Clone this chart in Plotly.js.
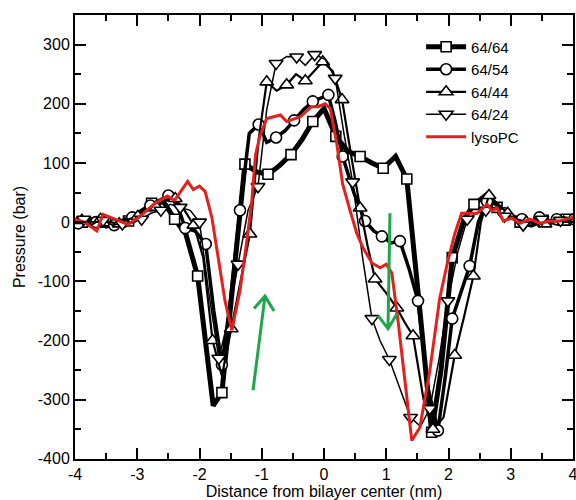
<!DOCTYPE html>
<html><head><meta charset="utf-8">
<script src="https://cdn.plot.ly/plotly-3.0.1.min.js"></script>
<style>html,body{margin:0;padding:0;background:#fff;} #chart{width:576px;height:500px;}</style>
</head><body><div id="chart"></div>
<script>
// ---- data ----
const seriesNames = ['64/64', '64/54', '64/44', '64/24', 'lysoPC'];

const sq_x = [-4.05,-3.88,-3.70,-3.51,-3.33,-3.14,-2.95,-2.77,-2.58,-2.40,-2.22,-2.03,-1.78,-1.64,-1.45,-1.27,-1.08,-0.90,-0.72,-0.53,-0.35,-0.18,0.00,0.19,0.38,0.58,0.77,0.95,1.15,1.33,1.55,1.73,1.88,2.06,2.25,2.41,2.62,2.78,2.97,3.15,3.33,3.52,3.70,3.89,4.05];
const sq_y = [0,0,5,0,-5,2,15,32,35,5,-20,-91,-310,-288,-90,98,85,81,95,114,140,170,192,145,120,111,100,91,111,73,-160,-355,-250,-60,5,30,47,25,12,0,-5,3,0,5,5];

const ci_x = [-4.10,-3.95,-3.80,-3.66,-3.50,-3.37,-3.20,-3.08,-2.93,-2.79,-2.65,-2.50,-2.36,-2.23,-2.07,-1.90,-1.77,-1.64,-1.50,-1.35,-1.20,-1.05,-0.92,-0.77,-0.62,-0.48,-0.33,-0.18,-0.05,0.07,0.18,0.30,0.48,0.66,0.80,0.93,1.08,1.22,1.37,1.51,1.67,1.83,1.95,2.06,2.20,2.34,2.48,2.62,2.76,2.90,3.04,3.18,3.32,3.46,3.60,3.74,3.88,4.02];
const ci_y = [0,-2,5,0,-8,-5,5,8,20,28,35,45,30,-10,-15,-37,-150,-241,-130,20,150,165,135,143,155,172,190,204,210,215,170,111,50,2,-15,-24,-35,-32,-80,-133,-280,-352,-260,-163,-120,-74,0,35,30,15,10,5,0,8,-5,5,0,5];

const tu_x = [-4.05,-3.89,-3.74,-3.59,-3.44,-3.29,-3.14,-2.99,-2.84,-2.69,-2.54,-2.39,-2.24,-2.09,-1.94,-1.79,-1.64,-1.49,-1.34,-1.19,-1.05,-0.92,-0.76,-0.60,-0.45,-0.30,-0.16,-0.02,0.14,0.29,0.44,0.58,0.70,0.82,1.00,1.17,1.30,1.43,1.60,1.75,1.92,2.10,2.25,2.40,2.52,2.65,2.80,2.95,3.10,3.25,3.40,3.55,3.70,3.85,4.00];
const tu_y = [0,3,-5,5,0,-3,5,10,20,25,38,40,20,-5,-60,-200,-260,-180,-100,-20,140,237,222,232,250,239,255,271,255,207,110,24,-40,-96,-120,-145,-170,-192,-300,-350,-330,-225,-160,-91,0,45,30,15,5,0,5,-3,5,0,5];

const td_x = [-4.05,-3.86,-3.70,-3.55,-3.40,-3.24,-3.08,-2.93,-2.78,-2.62,-2.47,-2.31,-2.15,-2.00,-1.85,-1.69,-1.55,-1.38,-1.22,-1.06,-0.92,-0.77,-0.60,-0.44,-0.30,-0.15,0.02,0.18,0.32,0.46,0.62,0.77,0.90,1.05,1.22,1.39,1.55,1.70,1.85,1.99,2.15,2.30,2.45,2.60,2.75,2.90,3.05,3.20,3.35,3.50,3.65,3.80,3.95,4.10];
const td_y = [0,5,0,3,-5,-3,0,5,15,20,30,25,20,0,-120,-230,-170,-71,20,60,190,268,280,279,265,283,275,243,150,68,-60,-163,-200,-232,-280,-330,-345,-315,-230,-133,-50,5,15,20,25,10,5,-5,0,5,0,3,5,5];

const red_x = [-4.00,-3.85,-3.65,-3.55,-3.36,-3.15,-2.95,-2.74,-2.52,-2.40,-2.19,-2.10,-2.00,-1.91,-1.80,-1.72,-1.67,-1.59,-1.48,-1.35,-1.24,-1.16,-1.10,-1.03,-0.92,-0.80,-0.70,-0.60,-0.52,-0.38,-0.20,-0.10,0.02,0.10,0.20,0.30,0.42,0.53,0.63,0.77,0.90,1.00,1.09,1.19,1.30,1.41,1.54,1.70,1.86,1.98,2.10,2.21,2.46,2.62,2.70,2.78,2.88,3.02,3.15,3.31,3.47,3.63,3.79,3.95,4.00];
const red_y = [5,0,-15,13,5,-4,10,30,44,37,69,55,61,52,7,-44,-82,-133,-183,-116,-32,35,114,145,175,178,181,170,173,178,195,195,200,192,136,64,19,-20,-44,-69,-77,-71,-86,-167,-268,-369,-347,-251,-128,-70,-20,15,15,30,19,24,2,7,-2,5,-2,2,2,7,8];

const xTickVals = [-4,-3,-2,-1,0,1,2,3,4];
const xTickText = ['-4','-3','-2','-1','0','1','2','3','4'];
const yTickVals = [-400,-300,-200,-100,0,100,200,300];
const yTickText = ['-400','-300','-200','-100','0','100','200','300'];

// ---- build ----
const everyOther = arr => arr.filter((_, i) => i % 2 === 1);
const halfSteps = vals => vals.slice(0, -1).map((v, i) => (v + vals[i + 1]) / 2);

const FONT = 'Liberation Sans, Arial, Helvetica, sans-serif';
const blackSeries = [
  {name: seriesNames[0], x: sq_x, y: sq_y, w: 5,   sym: 'square',        size: 10},
  {name: seriesNames[1], x: ci_x, y: ci_y, w: 3.5, sym: 'circle',        size: 11},
  {name: seriesNames[2], x: tu_x, y: tu_y, w: 2.2, sym: 'triangle-up',   size: 12},
  {name: seriesNames[3], x: td_x, y: td_y, w: 1.5, sym: 'triangle-down', size: 12}
];

const traces = [];
blackSeries.forEach(s => {
  traces.push({x: s.x, y: s.y, mode: 'lines', line: {color: 'black', width: s.w},
               showlegend: false, hoverinfo: 'skip'});
  traces.push({x: everyOther(s.x), y: everyOther(s.y), mode: 'markers', showlegend: false,
               marker: {symbol: s.sym, size: s.size, color: 'white', line: {color: 'black', width: 1.6}}});
  traces.push({x: [null], y: [null], mode: 'lines+markers', name: s.name, showlegend: true,
               line: {color: 'black', width: s.w},
               marker: {symbol: s.sym, size: s.size, color: 'white', line: {color: 'black', width: 1.6}}});
});
traces.push({x: red_x, y: red_y, mode: 'lines', name: seriesNames[4],
             line: {color: '#e5201c', width: 3}});

const GREEN = '#1fa64a';
const shapes = [
  {type: 'path', xref: 'x', yref: 'y', line: {color: GREEN, width: 3},
   path: 'M -1.14,-284 L -0.948,-125 M -1.125,-146 L -0.948,-125 L -0.803,-150'},
  {type: 'path', xref: 'x', yref: 'y', line: {color: GREEN, width: 3},
   path: 'M 1.06,15 L 1.028,-180 M 0.867,-158 L 1.028,-180 L 1.173,-155'}
];

const axisCommon = {
  ticks: 'inside', ticklen: 11, tickwidth: 2, tickcolor: 'black',
  showline: true, linewidth: 2, linecolor: 'black', mirror: 'ticks',
  showgrid: false, zeroline: false, ticklabeloverflow: 'allow',
  tickfont: {family: FONT, size: 16, color: 'black'}
};

const layout = {
  width: 576, height: 500,
  margin: {l: 75, r: 3, t: 15, b: 41},
  paper_bgcolor: 'white', plot_bgcolor: 'white',
  font: {family: FONT, size: 16, color: 'black'},
  showlegend: true,
  legend: {x: 0.695, y: 0.965, xanchor: 'left', yanchor: 'top', bgcolor: 'rgba(0,0,0,0)',
           font: {family: FONT, size: 15, color: 'black'}, tracegroupgap: 0, itemwidth: 40},
  xaxis: Object.assign({}, axisCommon, {
    range: [-4.0001, 4.0001], tickmode: 'array', tickvals: xTickVals, ticktext: xTickText,
    minor: {tickmode: 'array', tickvals: halfSteps(xTickVals), ticks: 'inside', ticklen: 6, tickwidth: 2, tickcolor: 'black', showgrid: false},
    title: {text: 'Distance from bilayer center (nm)', font: {family: FONT, size: 16}, standoff: 4}
  }),
  yaxis: Object.assign({}, axisCommon, {
    range: [-400.2, 350], tickmode: 'array', tickvals: yTickVals, ticktext: yTickText,
    minor: {tickmode: 'array', tickvals: halfSteps(yTickVals.concat([400])), ticks: 'inside', ticklen: 6, tickwidth: 2, tickcolor: 'black', showgrid: false},
    title: {text: 'Pressure (bar)', font: {family: FONT, size: 16}, standoff: 8}
  }),
  shapes: shapes
};

Plotly.newPlot('chart', traces, layout, {staticPlot: true, displayModeBar: false});
</script></body></html>
